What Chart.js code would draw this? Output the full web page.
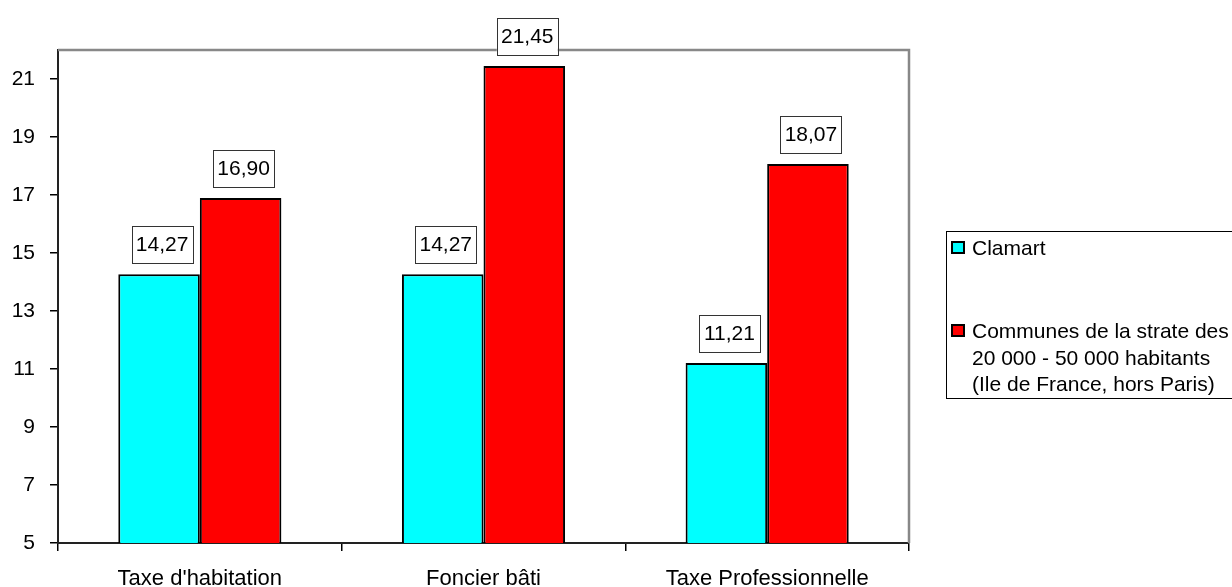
<!DOCTYPE html>
<html>
<head>
<meta charset="utf-8">
<script src="https://cdn.jsdelivr.net/npm/chart.js@4/dist/chart.umd.min.js"></script>
<style>
  html, body { margin: 0; padding: 0; background: #fff; }
  #wrap { width: 1232px; height: 587px; position: relative; }
</style>
</head>
<body>
<div id="wrap"><canvas id="graf" width="1232" height="587"></canvas></div>
<script>
// ========== DONNEES ==========
const categories = ["Taxe d'habitation", "Foncier bâti", "Taxe Professionnelle"];
const clamart = [14.27, 14.27, 11.21];
const strate = [16.90, 21.45, 18.07];
const labelClamart = ["Clamart"];
const labelStrate = ["Communes de la strate des", "20 000 - 50 000 habitants", "(Ile de France, hors Paris)"];
const yTicks = [5, 7, 9, 11, 13, 15, 17, 19, 21];
const yMin = 5, yMax = 22;

const police = "'Liberation Sans', Arial, sans-serif";

const formatFr = v => v.toFixed(2).replace('.', ',');

// cadre gris haut/droite
const cadre = {
  id: 'cadre',
  beforeDatasetsDraw(chart) {
    const { ctx, chartArea: a } = chart;
    ctx.save();
    ctx.strokeStyle = '#888';
    ctx.lineWidth = 2.5;
    ctx.beginPath();
    ctx.moveTo(a.left, a.top);
    ctx.lineTo(a.right, a.top);
    ctx.lineTo(a.right, a.bottom);
    ctx.stroke();
    ctx.restore();
  }
};

// etiquettes de valeur encadrees
const etiquettes = {
  id: 'etiquettes',
  afterDatasetsDraw(chart) {
    const { ctx } = chart;
    ctx.save();
    ctx.font = '21px ' + police;
    ctx.textAlign = 'center';
    ctx.textBaseline = 'middle';
    chart.data.datasets.forEach((ds, i) => {
      chart.getDatasetMeta(i).data.forEach((bar, j) => {
        const w = 61, h = 37;
        const cx = bar.x + 3;
        const bas = bar.y - 11;
        ctx.fillStyle = '#fff';
        ctx.fillRect(cx - w / 2, bas - h, w, h);
        ctx.strokeStyle = '#333';
        ctx.lineWidth = 1;
        ctx.strokeRect(Math.round(cx - w / 2) + 0.5, Math.round(bas - h) + 0.5, w, h);
        ctx.fillStyle = '#000';
        ctx.fillText(formatFr(ds.data[j]), cx, bas - h / 2 + 1);
      });
    });
    ctx.restore();
  }
};

// legende a droite
const legende = {
  id: 'legende',
  afterDraw(chart) {
    const { ctx } = chart;
    ctx.save();
    ctx.strokeStyle = '#000';
    ctx.lineWidth = 1;
    ctx.strokeRect(946.5, 231.5, 300, 167);
    ctx.font = '21px ' + police;
    ctx.textBaseline = 'alphabetic';
    ctx.textAlign = 'left';
    const positions = [241, 324];
    chart.data.datasets.forEach((ds, i) => {
      const y = positions[i];
      ctx.fillStyle = ds.backgroundColor;
      ctx.fillRect(951, y, 14, 13);
      ctx.lineWidth = 2;
      ctx.strokeStyle = '#000';
      ctx.strokeRect(952, y + 1, 12, 11);
      ctx.fillStyle = '#000';
      const lignes = Array.isArray(ds.label) ? ds.label : [ds.label];
      lignes.forEach((l, k) => ctx.fillText(l, 972, y + 14 + k * 26.5));
    });
    ctx.restore();
  }
};

new Chart(document.getElementById('graf'), {
  type: 'bar',
  data: {
    labels: categories,
    datasets: [
      { label: labelClamart, data: clamart, backgroundColor: '#00FFFF', borderColor: '#000', borderWidth: 2 },
      { label: labelStrate, data: strate, backgroundColor: '#FF0000', borderColor: '#000', borderWidth: 2 }
    ]
  },
  options: {
    responsive: false,
    animation: false,
    categoryPercentage: 0.575,
    barPercentage: 1,
    layout: { padding: { top: 50, right: 323, left: 0, bottom: 0 } },
    plugins: { legend: { display: false }, tooltip: { enabled: false } },
    scales: {
      x: {
        afterFit(s) { s.height = 44; },
        grid: { display: true, drawOnChartArea: false, offset: true, tickLength: 8, color: '#000', lineWidth: 1.5 },
        border: { color: '#222', width: 2 },
        ticks: { color: '#000', font: { family: police, size: 22 }, padding: 15, maxRotation: 0 }
      },
      y: {
        min: yMin,
        max: yMax,
        afterFit(s) { s.width = 58; },
        afterBuildTicks(s) { s.ticks = yTicks.map(v => ({ value: v })); },
        grid: { display: true, drawOnChartArea: false, tickLength: 8, color: '#000', lineWidth: 1.5 },
        border: { color: '#222', width: 2 },
        ticks: { color: '#000', font: { family: police, size: 21 }, padding: 15 }
      }
    }
  },
  plugins: [cadre, etiquettes, legende]
});
</script>
</body>
</html>
